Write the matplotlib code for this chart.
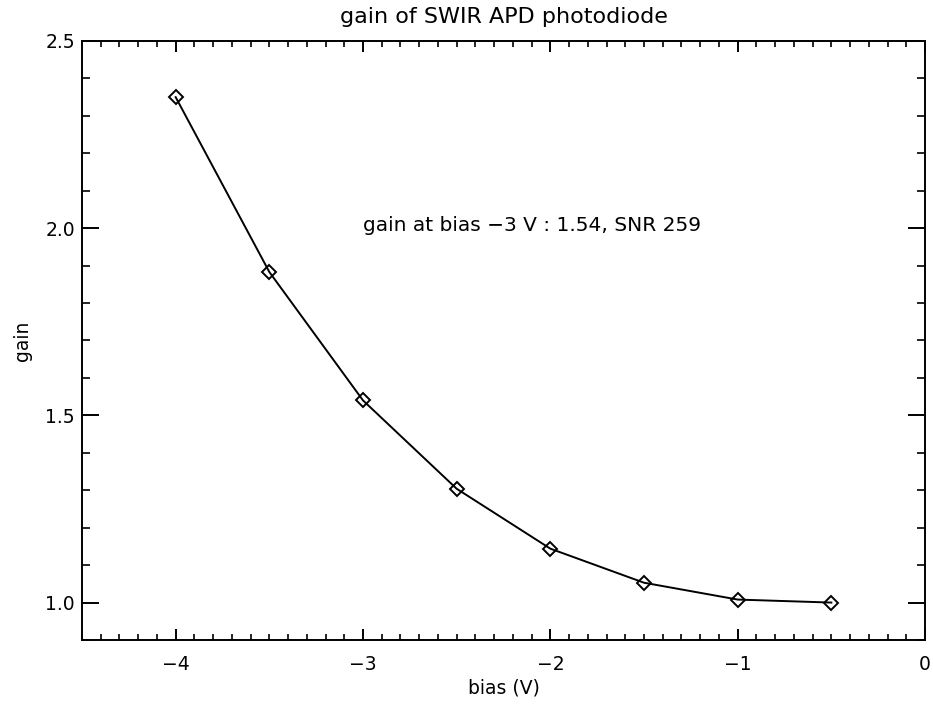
import matplotlib
matplotlib.use("Agg")
import matplotlib.pyplot as plt
from matplotlib.ticker import MultipleLocator, FixedLocator

bias = [-4.0, -3.5, -3.0, -2.5, -2.0, -1.5, -1.0, -0.5]
gain = [2.350, 1.883, 1.540, 1.304, 1.144, 1.053, 1.008, 1.000]
xticks = [-4, -3, -2, -1, 0]
xticklabels = ["\u22124", "\u22123", "\u22122", "\u22121", "0"]
yticks = [1.0, 1.5, 2.0, 2.5]
yticklabels = ["1.0", "1.5", "2.0", "2.5"]
title = "gain of SWIR APD photodiode"
note = "gain at bias \u22123 V : 1.54, SNR 259"

plt.rcParams['font.family'] = ['DejaVu Sans']
fig = plt.figure(figsize=(9.33, 7.04), dpi=100)
ax = fig.add_axes([82/933, 1-640/704, (925-82)/933, (640-41)/704])

ax.plot(bias, gain, color='black', lw=1.4, marker='D', markersize=6.8,
        markerfacecolor='none', markeredgecolor='black', markeredgewidth=1.4)

ax.set_xlim(-4.5, 0)
ax.set_ylim(0.9, 2.5)
ax.xaxis.set_major_locator(FixedLocator(xticks))
ax.set_xticklabels(xticklabels)
ax.yaxis.set_major_locator(FixedLocator(yticks))
ax.set_yticklabels(yticklabels)
ax.xaxis.set_minor_locator(MultipleLocator(0.1))
ax.yaxis.set_minor_locator(MultipleLocator(0.1))

for s in ax.spines.values():
    s.set_linewidth(1.4)
ax.tick_params(axis='x', which='major', direction='in', length=8, width=1.4,
               top=True, bottom=True, labelsize=13.5, pad=11)
ax.tick_params(axis='x', which='minor', direction='in', length=4, width=1.2,
               top=True, bottom=True)
ax.tick_params(axis='y', which='major', direction='in', length=12.5, width=1.4,
               left=True, right=True, labelsize=13.5, pad=5)
ax.tick_params(axis='y', which='minor', direction='in', length=6, width=1.2,
               left=True, right=True)

ax.set_xlabel("bias (V)", fontsize=13.5, labelpad=3)
ax.set_ylabel("gain", fontsize=13.5, labelpad=10)
ax.set_title(title, fontsize=16, pad=13)
ax.text(-3.0, 2.006, note, fontsize=14.5, ha='left', va='center')

fig.savefig("out.png", dpi=100)
